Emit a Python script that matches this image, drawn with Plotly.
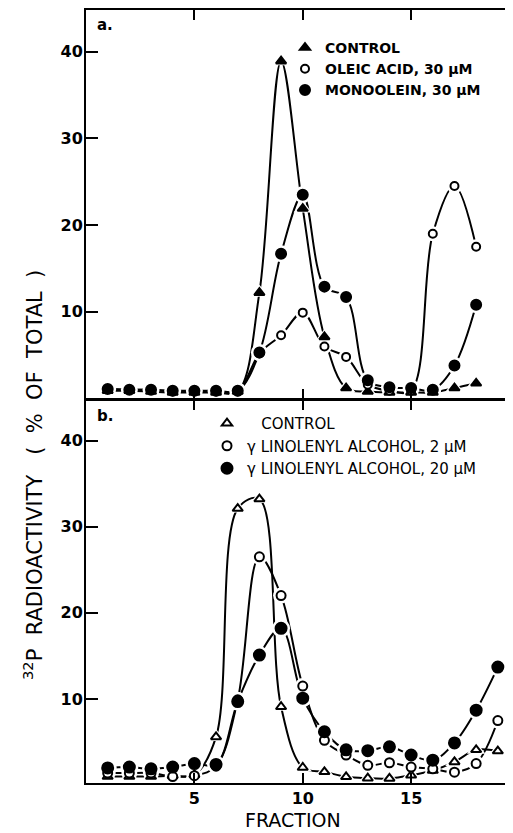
import plotly.graph_objects as go

# ---------------- data ----------------
frac_a = list(range(1, 19))
control_a = [0.9, 0.9, 0.8, 0.7, 0.7, 0.7, 0.8, 12.2, 38.9, 21.9, 7.1, 1.2, 0.8, 0.7, 0.7, 0.7, 1.2, 1.75]
oleic_a = [1.1, 1.0, 1.0, 0.8, 0.8, 0.8, 0.8, 5.2, 7.3, 9.9, 6.0, 4.8, 1.6, 0.9, 0.9, 19.0, 24.5, 17.5]
mono_a = [1.1, 1.0, 1.0, 0.9, 0.9, 0.9, 0.9, 5.3, 16.7, 23.5, 12.9, 11.7, 2.1, 1.3, 1.2, 1.0, 3.8, 10.8]

frac_b = list(range(1, 20))
control_b = [1.0, 1.0, 1.0, 1.1, 1.2, 5.6, 32.1, 33.2, 9.1, 2.05, 1.55, 0.97, 0.8, 0.78, 1.15, 1.7, 2.7, 4.1, 3.95]
gla2_b = [1.4, 1.4, 1.4, 1.0, 1.1, 2.2, 9.9, 26.5, 22.0, 11.5, 5.2, 3.5, 2.3, 2.6, 2.1, 1.9, 1.5, 2.5, 7.5]
gla20_b = [2.0, 2.1, 1.9, 2.1, 2.5, 2.4, 9.7, 15.1, 18.2, 10.1, 6.2, 4.1, 4.0, 4.45, 3.5, 2.9, 4.9, 8.7, 13.7]

names_a = ["CONTROL", "OLEIC ACID, 30 µM", "MONOOLEIN, 30 µM"]
names_b = ["\u00a0\u00a0\u00a0CONTROL", "γ LINOLENYL ALCOHOL, 2 µM", "γ LINOLENYL ALCOHOL, 20 µM"]

y_ticks = [10, 20, 30, 40]
x_ticks = [5, 10, 15]

FONT = "DejaVu Sans"
NB = "\u00a0"

series = [
    # x, y, symbol, fill, size, xaxis, yaxis, legend, name
    (frac_a, control_a, "triangle-up", "black", 9, "x", "y", "legend", names_a[0]),
    (frac_a, oleic_a, "circle", "white", 8, "x", "y", "legend", names_a[1]),
    (frac_a, mono_a, "circle", "black", 10, "x", "y", "legend", names_a[2]),
    (frac_b, control_b, "triangle-up", "white", 9, "x2", "y2", "legend2", names_b[0]),
    (frac_b, gla2_b, "circle", "white", 9, "x2", "y2", "legend2", names_b[1]),
    (frac_b, gla20_b, "circle", "black", 11, "x2", "y2", "legend2", names_b[2]),
]

fig = go.Figure()

# curves
for x, y, sym, fill, size, xa, ya, lg, name in series:
    fig.add_trace(go.Scatter(
        x=x, y=y, mode="lines", xaxis=xa, yaxis=ya,
        line=dict(color="black", width=2, shape="spline", smoothing=1.0),
        showlegend=False, hoverinfo="skip"))

# white halos that break the curves near each point
for x, y, sym, fill, size, xa, ya, lg, name in series:
    fig.add_trace(go.Scatter(
        x=x, y=y, mode="markers", xaxis=xa, yaxis=ya,
        marker=dict(symbol=sym, size=size + 7, color="white", line=dict(width=0)),
        showlegend=False, hoverinfo="skip"))

# markers
for x, y, sym, fill, size, xa, ya, lg, name in series:
    fig.add_trace(go.Scatter(
        x=x, y=y, mode="markers", xaxis=xa, yaxis=ya, name=name, legend=lg,
        marker=dict(symbol=sym, size=size, color=fill, line=dict(color="black", width=2)),
        showlegend=True))

W, H = 505, 825
L, R, T, B = 78, 0, 2, 50
plot_w = W - L - R
plot_h = H - T - B


def px(xr_):  # reference pixel x -> paper
    return (xr_ - 8 - L) / plot_w


def py(yr_):  # reference pixel y -> paper
    return (H - B - (yr_ - 8)) / plot_h


dom_a = [py(398.5), 1.0]
dom_b = [0.0, py(400)]
xr = [0, 19.7]

tickfont = dict(family=FONT, size=16, color="black", weight="bold")

common_x = dict(range=xr, tickvals=x_ticks, ticks="inside", ticklen=10, tickwidth=2,
                tickcolor="black", showline=True, linewidth=2, linecolor="black",
                mirror="ticks", showgrid=False, zeroline=False)
common_y = dict(tickvals=y_ticks, ticks="inside", ticklen=12, tickwidth=2, tickcolor="black",
                showline=True, linewidth=2, linecolor="black", showgrid=False, zeroline=False,
                tickfont=tickfont, ticklabelstandoff=-2)

ytitle = ("<sup>32</sup>P" + NB * 2 + "RADIOACTIVITY" + NB * 3 + "(" + NB * 2 + "%" + NB * 2
          + "OF" + NB * 2 + "TOTAL" + NB * 2 + ")")

fig.update_layout(
    width=W, height=H,
    margin=dict(l=L, r=R, t=T, b=B),
    paper_bgcolor="white", plot_bgcolor="white",
    font=dict(family=FONT, color="black"),
    xaxis=dict(anchor="y", domain=[0, 1], showticklabels=False, **common_x),
    xaxis2=dict(anchor="y2", domain=[0, 1], showticklabels=True, tickfont=tickfont, **common_x),
    yaxis=dict(anchor="x", domain=dom_a, range=[0, 44.8], **common_y),
    yaxis2=dict(anchor="x2", domain=dom_b, range=[0.25, 44.7], **common_y),
    yaxis3=dict(overlaying="y", anchor="x", side="right", range=[0, 44.8], tickvals=y_ticks,
                ticks="inside", ticklen=9, tickwidth=2, tickcolor="black", showline=False,
                showticklabels=False, showgrid=False, zeroline=False),
    yaxis4=dict(overlaying="y2", anchor="x2", side="right", range=[0.25, 44.7], tickvals=y_ticks,
                ticks="inside", ticklen=9, tickwidth=2, tickcolor="black", showline=False,
                showticklabels=False, showgrid=False, zeroline=False),
    legend=dict(x=px(325 - 40), y=py(32), xanchor="left", yanchor="top",
                bgcolor="rgba(0,0,0,0)", borderwidth=0,
                font=dict(family=FONT, size=14, color="black", weight="bold"),
                tracegroupgap=0),
    legend2=dict(x=px(247 - 40), y=py(407), xanchor="left", yanchor="top",
                 bgcolor="rgba(0,0,0,0)", borderwidth=0,
                 font=dict(family=FONT, size=15, color="black"),
                 tracegroupgap=0),
    annotations=[
        dict(text="a.", x=px(95), y=py(25), xref="paper", yref="paper",
             xanchor="left", yanchor="middle", showarrow=False,
             font=dict(family=FONT, size=15, color="black", weight="bold")),
        dict(text="b.", x=px(95), y=py(416), xref="paper", yref="paper",
             xanchor="left", yanchor="middle", showarrow=False,
             font=dict(family=FONT, size=15, color="black", weight="bold")),
        dict(text=ytitle, x=px(33), y=py(475), xref="paper", yref="paper",
             xanchor="center", yanchor="middle", textangle=-90, showarrow=False,
             font=dict(family=FONT, size=21, color="black")),
        dict(text="FRACTION", x=px(293), y=py(820), xref="paper", yref="paper",
             xanchor="center", yanchor="middle", showarrow=False,
             font=dict(family=FONT, size=19, color="black")),
    ],
)

fig.write_html("out.html")
